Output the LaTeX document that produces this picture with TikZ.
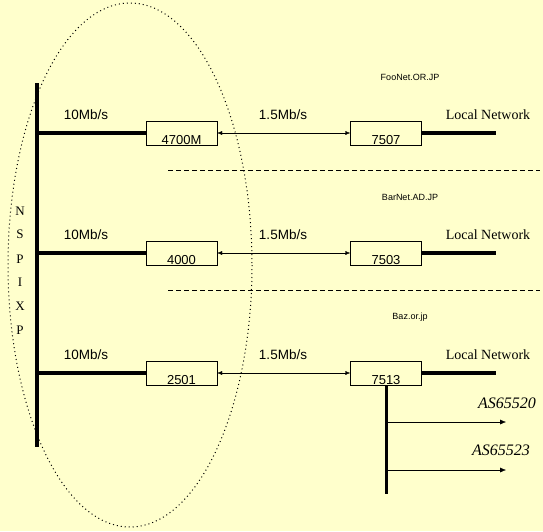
\documentclass[tikz,border=0pt]{standalone}
\usepackage{fontspec}
\setmainfont{Liberation Serif}
\setsansfont{Liberation Sans}
\usetikzlibrary{arrows.meta,positioning}
\definecolor{paper}{RGB}{255,255,204}
\tikzset{
  rtr/.style    = {rectangle, draw=black, thin, fill=paper, minimum width=71pt,
                   minimum height=24pt, inner sep=1pt, text height=22pt,
                   text depth=0pt, font=\sffamily\fontsize{13}{13}\selectfont},
  bus/.style    = {line width=4pt},
  link/.style   = {line width=4pt},
  ser/.style    = {{Latex[length=5pt,width=4pt]}-{Latex[length=5pt,width=4pt]}, thin},
  peer/.style   = {-{Latex[length=6pt,width=5pt]}, thin},
  sep/.style    = {dashed, dash pattern=on 5pt off 3pt, thin},
  ixzone/.style = {line width=1pt, dash pattern=on 1pt off 3pt},
  spd/.style    = {font=\sffamily\fontsize{13.5}{13.5}\selectfont, inner sep=0pt},
  lan/.style    = {font=\fontsize{14}{14}\selectfont, inner sep=0pt},
  dom/.style    = {font=\sffamily\fontsize{9}{9}\selectfont, inner sep=0pt},
  asn/.style    = {font=\itshape\fontsize{16}{16}\selectfont, inner sep=0pt},
  ix/.style     = {font=\fontsize{13}{13}\selectfont, inner sep=0pt},
}

\begin{document}
\begin{tikzpicture}[x=1pt,y=-1pt]
    \fill[paper] (0,0) rectangle (543,531);
    \useasboundingbox (0,0) rectangle (543,531);
    % NSPIXP
    \draw[ixzone] (130,265) ellipse [x radius=122, y radius=262];
    \coordinate (bustop) at (37,83);
    \coordinate (busbot) at (37,447);
    \draw[bus] (bustop) -- (busbot);
    \node[ix] (n1) at (20,211) {N};
    \node[ix] (n2) at (20,234) {S};
    \node[ix] (n3) at (20,259) {P};
    \node[ix] (n4) at (20,282) {I};
    \node[ix] (n5) at (20,306) {X};
    \node[ix] (n6) at (20,330) {P};
    % FooNet
    \coordinate (ja) at (37,133);
    \node[rtr] (ra) at (181.5,133) {4700M};
    \node[rtr] (la) at (386,133) {7507};
    \coordinate (ea) at (496,133);
    \node[spd] (sa) at (86,115) {10Mb/s};
    \node[spd] (ta) at (283,115) {1.5Mb/s};
    \node[lan] (na) at (488,115) {Local Network};
    \node[dom] (da) at (410,77) {FooNet.OR.JP};
    \draw[link] (ja) -- (ra);
    \draw[ser] (ra) -- (la);
    \draw[link] (la) -- (ea);
    \coordinate (ka) at (168,170);
    \coordinate (kb) at (540,170);
    \draw[sep] (ka) -- (kb);
    % BarNet
    \coordinate (jb) at (37,253);
    \node[rtr] (rb) at (181.5,253) {4000};
    \node[rtr] (lb) at (386,253) {7503};
    \coordinate (eb) at (496,253);
    \node[spd] (sb) at (86,235) {10Mb/s};
    \node[spd] (tb) at (283,235) {1.5Mb/s};
    \node[lan] (nb) at (488,235) {Local Network};
    \node[dom] (db) at (410,197) {BarNet.AD.JP};
    \draw[link] (jb) -- (rb);
    \draw[ser] (rb) -- (lb);
    \draw[link] (lb) -- (eb);
    \coordinate (kc) at (168,290);
    \coordinate (kd) at (540,290);
    \draw[sep] (kc) -- (kd);
    % Baz
    \coordinate (jc) at (37,373);
    \node[rtr] (rc) at (181.5,373) {2501};
    \node[rtr] (lc) at (386,373) {7513};
    \coordinate (ec) at (496,373);
    \node[spd] (sc) at (86,355) {10Mb/s};
    \node[spd] (tc) at (283,355) {1.5Mb/s};
    \node[lan] (nc) at (488,355) {Local Network};
    \node[dom] (dc) at (410,317) {Baz.or.jp};
    \draw[link] (jc) -- (rc);
    \draw[ser] (rc) -- (lc);
    \draw[link] (lc) -- (ec);
    % AS peers
    \coordinate (pa) at (386,422);
    \coordinate (pb) at (386,470);
    \coordinate (pe) at (386,494);
    \coordinate (qa) at (506,422);
    \coordinate (qb) at (506,470);
    \draw[line width=3pt] (lc.south) -- (pe);
    \draw[peer] (pa) -- (qa);
    \draw[peer] (pb) -- (qb);
    \node[asn] (aa) at (507,403) {AS65520};
    \node[asn] (ab) at (501,450) {AS65523};
\end{tikzpicture}
\end{document}
